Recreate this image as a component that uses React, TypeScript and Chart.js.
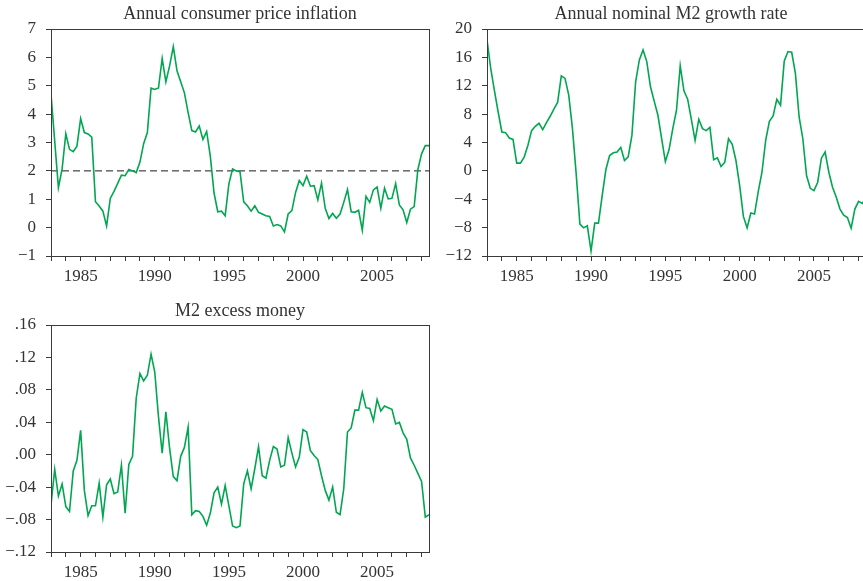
import React, { useEffect, useRef } from "react";
import { Chart, registerables } from "chart.js";

Chart.register(...registerables);

// ---- data (quarterly, 1983Q1 .. 2008Q3) ----
const startYear = 1983;
const quartersPerYear = 4;

const cpiInflation = [
  4.70, 3.05, 1.41, 2.07, 3.31, 2.76, 2.68, 2.87, 3.84, 3.35, 3.30, 3.19,
  0.91, 0.76, 0.58, 0.06, 1.03, 1.28, 1.56, 1.85, 1.83, 2.05, 2.00, 1.94,
  2.31, 2.96, 3.35, 4.92, 4.87, 4.92, 5.96, 5.14, 5.70, 6.38, 5.53, 5.14,
  4.75, 4.05, 3.42, 3.37, 3.58, 3.11, 3.39, 2.50, 1.22, 0.56, 0.58, 0.42,
  1.54, 2.07, 2.00, 1.97, 0.91, 0.77, 0.58, 0.77, 0.54, 0.48, 0.42, 0.39,
  0.06, 0.11, 0.06, -0.15, 0.48, 0.60, 1.24, 1.66, 1.48, 1.81, 1.46, 1.48,
  0.98, 1.57, 0.68, 0.32, 0.50, 0.33, 0.48, 0.89, 1.34, 0.56, 0.54, 0.61,
  -0.09, 1.10, 0.89, 1.33, 1.43, 0.68, 1.39, 1.01, 1.03, 1.55, 0.80, 0.63,
  0.18, 0.65, 0.74, 2.05, 2.60, 2.89, 2.89,
];

const m2Growth = [
  18.47, 14.45, 11.3, 8.3, 5.48, 5.39, 4.63, 4.44, 1.09, 1.09, 1.94, 3.59,
  5.67, 6.28, 6.71, 5.81, 6.8, 7.7, 8.7, 9.64, 13.4, 13.04, 10.68, 5.95,
  -0.43, -7.51, -8.03, -7.75, -11.29, -7.37, -7.37, -3.5, 0.19, 2.17, 2.55, 2.65,
  3.31, 1.46, 1.98, 5.0, 12.56, 15.64, 17.05, 15.4, 11.86, 9.83, 7.84, 4.53,
  1.32, 3.0, 5.95, 8.55, 14.83, 11.29, 10.1, 7.27, 4.3, 7.27, 5.95, 5.67,
  6.14, 1.56, 1.84, 0.61, 1.23, 4.53, 3.73, 1.46, -2.08, -6.42, -8.03, -5.95,
  -6.09, -2.93, -0.19, 4.3, 6.99, 7.75, 10.1, 9.26, 15.49, 16.82, 16.72, 13.75,
  7.6, 4.53, -0.66, -2.46, -2.79, -1.6, 1.79, 2.65, -0.19, -2.31, -3.73, -5.39,
  -6.24, -6.57, -8.08, -5.39, -4.3, -4.58, -3.8,
];

const m2Excess = [
  -0.062, -0.018, -0.051, -0.036, -0.064, -0.070, -0.020, -0.007, 0.030, -0.044, -0.075, -0.063,
  -0.063, -0.035, -0.077, -0.037, -0.030, -0.048, -0.046, -0.013, -0.072, -0.012, -0.002, 0.070,
  0.100, 0.091, 0.098, 0.124, 0.102, 0.047, 0.002, 0.053, 0.008, -0.027, -0.032, -0.002,
  0.009, 0.034, -0.074, -0.069, -0.070, -0.076, -0.087, -0.072, -0.047, -0.040, -0.061, -0.038,
  -0.063, -0.088, -0.090, -0.088, -0.036, -0.020, -0.042, -0.017, 0.010, -0.026, -0.029, -0.007,
  0.010, 0.007, -0.015, -0.013, 0.021, 0.002, -0.015, -0.003, 0.031, 0.028, 0.005, -0.001,
  -0.006, -0.026, -0.044, -0.056, -0.040, -0.071, -0.074, -0.042, 0.028, 0.033, 0.055, 0.055,
  0.077, 0.058, 0.057, 0.042, 0.068, 0.054, 0.060, 0.058, 0.056, 0.038, 0.040, 0.027,
  0.019, -0.004, -0.013, -0.023, -0.033, -0.077, -0.074,
];

const cpiTarget = 2;

const xTickYears = [
  1983, 1984, 1985, 1986, 1987, 1988, 1989, 1990, 1991, 1992, 1993, 1994, 1995,
  1996, 1997, 1998, 1999, 2000, 2001, 2002, 2003, 2004, 2005, 2006, 2007, 2008,
];
const xLabelYears = [1985, 1990, 1995, 2000, 2005];

const cpiTicks = [-1, 0, 1, 2, 3, 4, 5, 6, 7];
const cpiTickLabels = ["\u22121", "0", "1", "2", "3", "4", "5", "6", "7"];
const m2Ticks = [-12, -8, -4, 0, 4, 8, 12, 16, 20];
const m2TickLabels = ["\u221212", "\u22128", "\u22124", "0", "4", "8", "12", "16", "20"];
const excessTicks = [-0.12, -0.08, -0.04, 0, 0.04, 0.08, 0.12, 0.16];
const excessTickLabels = ["\u2212.12", "\u2212.08", "\u2212.04", ".00", ".04", ".08", ".12", ".16"];

const titles = [
  "Annual consumer price inflation",
  "Annual nominal M2 growth rate",
  "M2 excess money",
];

// ---- styles ----
const FONT = "'Liberation Serif', 'Times New Roman', serif";
const GREEN = "#00a651";
const AXIS = "#3a3a3a";
const TEXT = "#333333";

type PanelOpts = {
  values: number[];
  yTicks: number[];
  yLabels: string[];
  title: string;
  titleX: number;
  titleY: number;
  yWidth: number;
  padTop: number;
  padRight: number;
  xHeight: number;
  refLine?: number;
};

function makeConfig(o: PanelOpts): any {
  const points = o.values.map((v, i) => ({ x: startYear + i / quartersPerYear, y: v }));
  const xMax = startYear + (o.values.length - 1) / quartersPerYear;
  const datasets: any[] = [
    {
      data: points,
      borderColor: GREEN,
      borderWidth: 1.6,
      pointRadius: 0,
      tension: 0,
      fill: false,
    },
  ];
  if (o.refLine !== undefined) {
    datasets.push({
      data: [
        { x: startYear, y: o.refLine },
        { x: xMax, y: o.refLine },
      ],
      borderColor: "#1a1a1a",
      borderWidth: 1,
      borderDash: [7, 4],
      pointRadius: 0,
      fill: false,
    });
  }
  const framePlugin = {
    id: "frameAndTitle",
    afterDraw(chart: any) {
      const { ctx, chartArea } = chart;
      ctx.save();
      ctx.strokeStyle = AXIS;
      ctx.lineWidth = 1;
      ctx.strokeRect(
        chartArea.left + 0.5,
        chartArea.top + 0.5,
        chartArea.right - chartArea.left,
        chartArea.bottom - chartArea.top
      );
      ctx.fillStyle = TEXT;
      ctx.font = `18px ${FONT}`;
      ctx.textAlign = "center";
      ctx.textBaseline = "alphabetic";
      ctx.fillText(o.title, o.titleX, o.titleY);
      ctx.restore();
    },
  };
  return {
    type: "line",
    data: { datasets },
    options: {
      animation: false,
      responsive: false,
      events: [],
      layout: { padding: { top: o.padTop, right: o.padRight, left: 0, bottom: 0 } },
      plugins: { legend: { display: false }, tooltip: { enabled: false }, title: { display: false } },
      scales: {
        x: {
          type: "linear",
          min: startYear,
          max: xMax,
          afterBuildTicks: (s: any) => {
            s.ticks = xTickYears.map((v) => ({ value: v }));
          },
          afterFit: (s: any) => {
            s.height = o.xHeight;
          },
          grid: { drawOnChartArea: false, drawTicks: true, tickLength: 5, color: AXIS },
          border: { display: false },
          ticks: {
            autoSkip: false,
            maxRotation: 0,
            padding: 5,
            color: TEXT,
            font: { family: FONT, size: 17 },
            callback: (v: number) => (xLabelYears.includes(v) ? String(v) : ""),
          },
        },
        y: {
          type: "linear",
          min: o.yTicks[0],
          max: o.yTicks[o.yTicks.length - 1],
          afterBuildTicks: (s: any) => {
            s.ticks = o.yTicks.map((v) => ({ value: v }));
          },
          afterFit: (s: any) => {
            s.width = o.yWidth;
          },
          grid: { drawOnChartArea: false, drawTicks: true, tickLength: 5, color: AXIS },
          border: { display: false },
          ticks: {
            padding: 10,
            color: TEXT,
            font: { family: FONT, size: 17 },
            callback: (_v: number, i: number) => o.yLabels[i],
          },
        },
      },
    },
    plugins: [framePlugin],
  };
}

function Panel(props: { opts: PanelOpts; left: number; top: number; width: number; height: number }) {
  const ref = useRef<HTMLCanvasElement>(null);
  useEffect(() => {
    const chart = new Chart(ref.current as HTMLCanvasElement, makeConfig(props.opts));
    return () => chart.destroy();
  }, []);
  return (
    <canvas
      ref={ref}
      width={props.width}
      height={props.height}
      style={{ position: "absolute", left: props.left, top: props.top, width: props.width, height: props.height }}
    />
  );
}

export default function App() {
  return (
    <div
      style={{
        position: "fixed",
        left: 0,
        top: 0,
        width: 863,
        height: 581,
        overflow: "hidden",
        background: "#fff",
      }}
    >
      <Panel
        left={0}
        top={0}
        width={440}
        height={290}
        opts={{
          values: cpiInflation,
          yTicks: cpiTicks,
          yLabels: cpiTickLabels,
          title: titles[0],
          titleX: 240,
          titleY: 18.5,
          yWidth: 51,
          padTop: 29,
          padRight: 11,
          xHeight: 34,
          refLine: cpiTarget,
        }}
      />
      <Panel
        left={440}
        top={0}
        width={440}
        height={290}
        opts={{
          values: m2Growth,
          yTicks: m2Ticks,
          yLabels: m2TickLabels,
          title: titles[1],
          titleX: 231,
          titleY: 18.5,
          yWidth: 47,
          padTop: 29,
          padRight: 14,
          xHeight: 34,
        }}
      />
      <Panel
        left={0}
        top={290}
        width={440}
        height={291}
        opts={{
          values: m2Excess,
          yTicks: excessTicks,
          yLabels: excessTickLabels,
          title: titles[2],
          titleX: 240,
          titleY: 26,
          yWidth: 51,
          padTop: 35,
          padRight: 11,
          xHeight: 29,
        }}
      />
    </div>
  );
}
